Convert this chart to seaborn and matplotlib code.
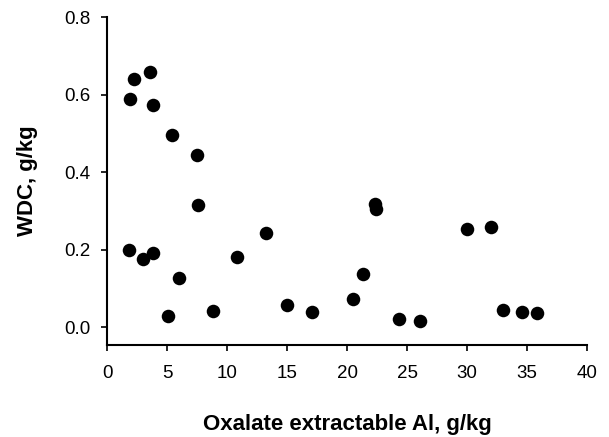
import numpy as np
import pandas as pd
import matplotlib
matplotlib.use("Agg")
import matplotlib.pyplot as plt
import seaborn as sns

# values
oxalate_al = [2.2, 3.6, 1.9, 3.8, 5.4, 7.5, 7.6, 13.2, 1.8, 3.0, 3.8, 10.8,
              6.0, 5.1, 8.8, 22.3, 22.4, 30.0, 32.0, 21.3, 15.0, 17.1, 20.5,
              24.3, 26.1, 33.0, 34.6, 35.8]
wdc = [0.640, 0.657, 0.588, 0.572, 0.495, 0.444, 0.315, 0.243, 0.200, 0.175,
       0.190, 0.181, 0.126, 0.028, 0.041, 0.317, 0.304, 0.252, 0.258, 0.138,
       0.057, 0.040, 0.072, 0.021, 0.015, 0.045, 0.040, 0.037]

x_ticks = [0, 5, 10, 15, 20, 25, 30, 35, 40]
y_ticks = [0.0, 0.2, 0.4, 0.6, 0.8]

df = pd.DataFrame({"al": oxalate_al, "wdc": wdc})

sns.set_style("ticks")
plt.rcParams['font.family'] = ['Liberation Sans', 'DejaVu Sans']
plt.rcParams['text.color'] = 'black'
plt.rcParams['axes.labelcolor'] = 'black'

fig = plt.figure(figsize=(6.09, 4.37), dpi=100)
ax = fig.add_axes([0.176, 0.21, 0.788, 0.751])

sns.scatterplot(data=df, x="al", y="wdc", ax=ax, color="black", s=95,
                edgecolor="black", linewidth=0, legend=False)

ax.set_xlim(0, 40)
ax.set_ylim(-0.047, 0.8)
ax.set_xticks(x_ticks)
ax.set_yticks(y_ticks)
ax.set_yticklabels([f"{v:.1f}" for v in y_ticks])
ax.tick_params(axis="both", labelsize=13.5, length=4, width=1.2, color="black",
               labelcolor="black", direction="out")
ax.tick_params(axis="x", pad=10)
ax.tick_params(axis="y", pad=8)

sns.despine(ax=ax)
for sp in ("left", "bottom"):
    ax.spines[sp].set_linewidth(1.5)
    ax.spines[sp].set_color("black")

ax.set_xlabel("Oxalate extractable Al, g/kg", fontsize=16, fontweight="bold",
              labelpad=23, color="black")
ax.set_ylabel("WDC, g/kg", fontsize=16, fontweight="bold", labelpad=19,
              color="black")

fig.savefig("out.png", dpi=100)
